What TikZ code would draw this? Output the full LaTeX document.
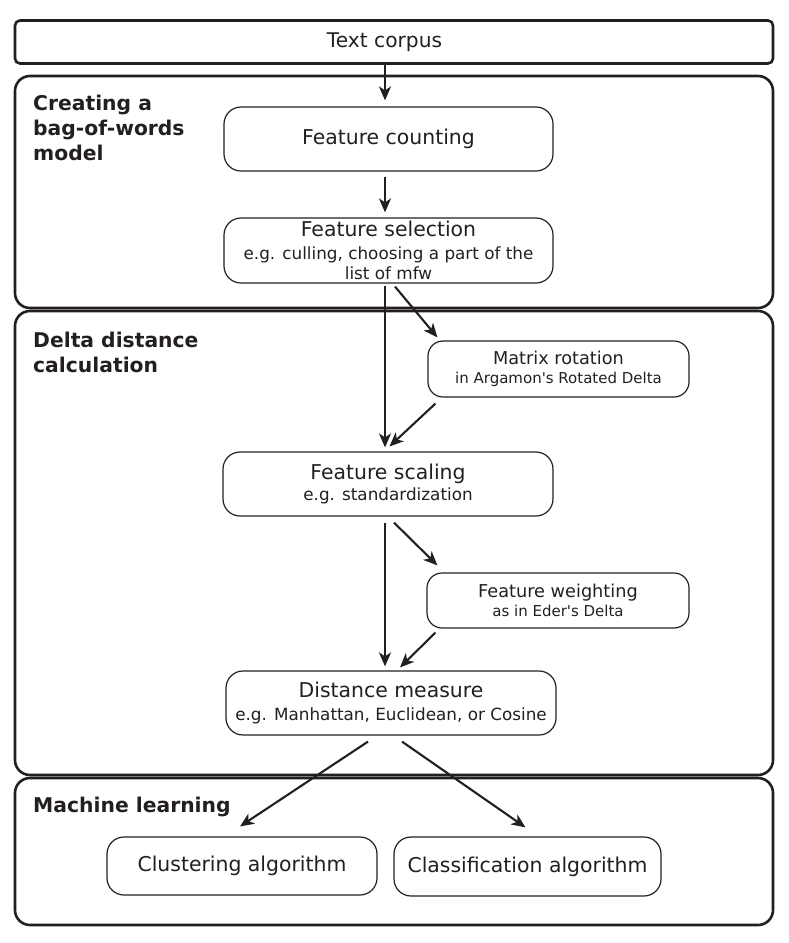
\documentclass[tikz,border=0pt]{standalone}
\usepackage{fontspec}
\setmainfont{DejaVu Sans}
\usetikzlibrary{arrows.meta}
\definecolor{ink}{RGB}{35,31,32}
\newcommand{\fsz}[2]{\fontsize{#1}{#2}\selectfont}
\newcommand{\sq}{\XeTeXglyph\XeTeXcharglyph"0027\relax}
\begin{document}
\begin{tikzpicture}[x=1pt,y=-1pt,
  group/.style={draw=ink, line width=2.6pt, rounded corners=15pt, inner sep=0pt},
  bigbox/.style={draw=ink, line width=1.2pt, rounded corners=17pt, inner sep=0pt, align=center, text=ink, font=\fsz{16.8}{20.5}},
  sidebox/.style={draw=ink, line width=1.2pt, rounded corners=15pt, inner sep=0pt, align=center, text=ink, font=\fsz{15}{18}},
  heading/.style={anchor=north west, inner sep=0pt, align=left, text=ink, font=\bfseries\fsz{20.3}{25}},
  arr/.style={draw=ink, line width=2.1pt, -{Stealth[length=14pt,width=12pt,inset=4pt]}}
]
\useasboundingbox (0,0) rectangle (788,943);
% groups
\node[group, minimum width=758pt, minimum height=232pt] (g1) at (394,192) {};
\node[group, minimum width=758pt, minimum height=464pt] (g2) at (394,543) {};
\node[group, minimum width=758pt, minimum height=147pt] (g3) at (394,851.5) {};
\node[draw=ink, line width=2.6pt, rounded corners=5pt, inner sep=0pt, minimum width=758pt, minimum height=43pt, text=ink, font=\fsz{20.2}{22}] (tc) at (394,42) {\hspace*{-19pt}Text corpus};
% headings
\node[heading] (h1) at (33,95) {Creating a\\bag-of-words\\model};
\node[heading] (h2) at (33,332) {Delta distance\\calculation};
\node[heading] (h3) at (33,797) {Machine learning};
% boxes
\node[bigbox, minimum width=329pt, minimum height=64pt] (fc) at (388.5,139) {{\fsz{20.4}{22}Feature counting}};
\node[bigbox, minimum width=329pt, minimum height=65pt] (sel) at (388.5,250.5) {{\fsz{20.4}{22}Feature selection}\\[2pt]e.g. culling, choosing a part of the\\list of mfw};
\node[sidebox, minimum width=261pt, minimum height=56pt] (mr) at (558.5,369) {{\fsz{17.7}{20}Matrix rotation}\\[1pt]in Argamon\sq s Rotated Delta};
\node[bigbox, minimum width=330pt, minimum height=64pt] (sc) at (388,484) {{\fsz{20.4}{22}Feature scaling}\\[1pt]e.g. standardization};
\node[sidebox, minimum width=262pt, minimum height=55pt] (fw) at (558,600.5) {{\fsz{17.7}{20}Feature weighting}\\[1pt]as in Eder\sq s Delta};
\node[bigbox, minimum width=330pt, minimum height=64pt] (dm) at (391,703) {{\fsz{20.4}{22}Distance measure}\\[2pt]e.g. Manhattan, Euclidean, or Cosine};
\node[bigbox, minimum width=270pt, minimum height=58pt] (cl) at (242,866) {{\fsz{20.4}{22}Clustering algorithm}};
\node[bigbox, minimum width=267pt, minimum height=59pt] (cf) at (527.5,866.5) {{\fsz{20.4}{22}Classification algorithm}};
% arrows
\draw[arr] ([shift={(-9,0)}]tc.south) -- ([shift={(-3.5,-6)}]fc.north);
\draw[arr] ([shift={(-3.5,5)}]fc.south) -- ([shift={(-3.5,-5)}]sel.north);
\draw[arr] ([shift={(-3.5,2)}]sel.south) -- ([shift={(-3,-4)}]sc.north);
\draw[arr] ([shift={(6.5,3)}]sel.south) -- ([shift={(10,-3)}]mr.north west);
\draw[arr] ([shift={(8,6)}]mr.south west) -- ([shift={(1.5,-5)}]sc.north);
\draw[arr] ([shift={(-3,6)}]sc.south) -- ([shift={(-6,-4)}]dm.north);
\draw[arr] ([shift={(6,6)}]sc.south) -- ([shift={(11,-7)}]fw.north west);
\draw[arr] ([shift={(9,4)}]fw.south west) -- ([shift={(9,-3)}]dm.north);
\draw[arr] ([shift={(-23,6)}]dm.south) -- ([shift={(-2,-10)}]cl.north);
\draw[arr] ([shift={(11,6)}]dm.south) -- ([shift={(-2,-9)}]cf.north);
\end{tikzpicture}
\end{document}
